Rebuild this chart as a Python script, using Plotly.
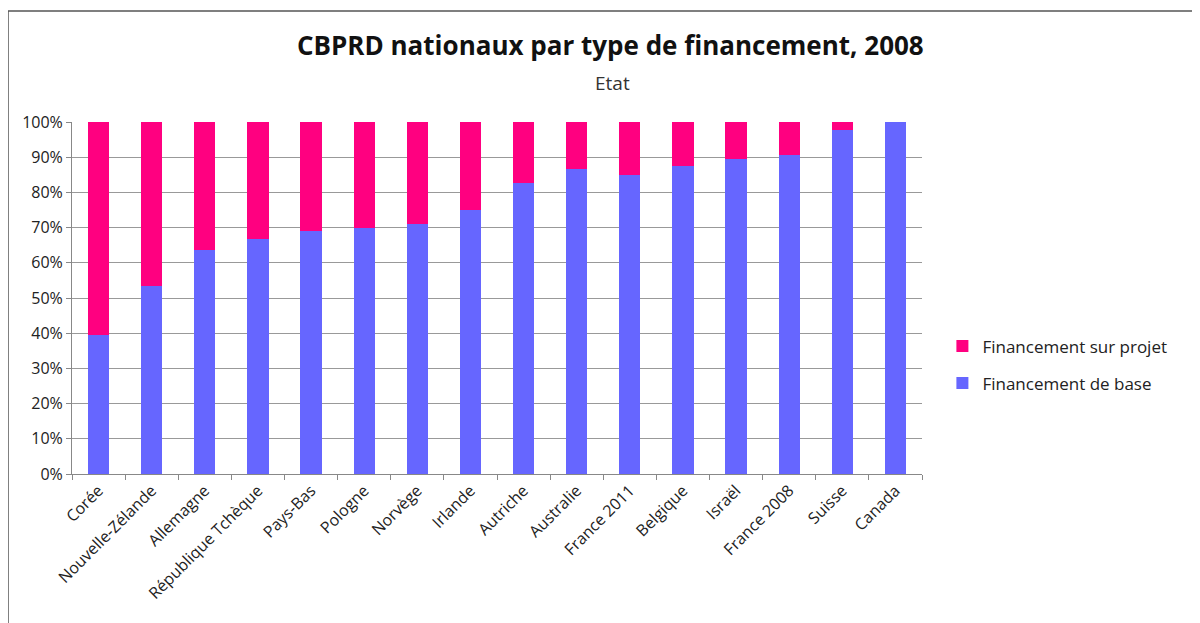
import plotly.graph_objs as go

pays = ["Corée", "Nouvelle-Zélande", "Allemagne", "République Tchèque", "Pays-Bas",
        "Pologne", "Norvège", "Irlande", "Autriche", "Australie", "France 2011",
        "Belgique", "Israël", "France 2008", "Suisse", "Canada"]
base = [39.5, 53.5, 63.6, 66.7, 69.0, 70.0, 71.0, 75.0, 82.6, 86.6, 84.9,
        87.6, 89.5, 90.6, 97.7, 100.0]
projet = [100 - b for b in base]

y_ticks = list(range(0, 101, 10))
y_labels = [f"{v}%" for v in y_ticks]

fig = go.Figure()
fig.add_trace(go.Bar(x=pays, y=base, name="Financement de base", legendgroup="b",
                     legendrank=2,
                     marker=dict(color="#6666FF", line=dict(width=0))))
fig.add_trace(go.Bar(x=pays, y=projet, name="Financement sur projet", legendgroup="p",
                     legendrank=1,
                     marker=dict(color="#FF0080", line=dict(width=0))))

# the page body adds an 8px offset, so the figure is sized 1192x615
fig.update_layout(
    barmode="stack",
    bargap=0.6,
    width=1192, height=615,
    margin=dict(l=64, r=278, t=114, b=149),
    paper_bgcolor="white", plot_bgcolor="white",
    font=dict(family="Open Sans, Lato, sans-serif", color="#222", size=14),
    showlegend=True,
    legend=dict(x=1.024, y=0.31, xanchor="left", yanchor="middle",
                traceorder="grouped", font=dict(size=17, color="#222"),
                tracegroupgap=12),
    xaxis=dict(tickangle=-45, ticks="outside", tickson="boundaries", ticklen=5,
               tickcolor="#888", showline=True, linecolor="#888", linewidth=1,
               showgrid=False, tickfont=dict(size=16), automargin=False),
    yaxis=dict(range=[0, 100], tickvals=y_ticks, ticktext=y_labels,
               showgrid=True, gridcolor="#999", gridwidth=1,
               showline=True, linecolor="#888", ticks="outside", ticklen=5,
               tickcolor="#888", tickfont=dict(size=16), zeroline=False,
               automargin=False),
    annotations=[
        dict(text="<b>CBPRD nationaux par type de financement, 2008</b>",
             xref="paper", yref="paper", x=0.633, y=1.219, showarrow=False,
             xanchor="center", yanchor="middle",
             font=dict(size=26, color="#111")),
        dict(text="Etat", xref="paper", yref="paper", x=0.636, y=1.111,
             showarrow=False, xanchor="center", yanchor="middle",
             font=dict(size=19, color="#333")),
    ],
    shapes=[dict(type="rect", xref="paper", yref="paper",
                 x0=-0.0753, x1=1.5, y0=-0.5, y1=1.315,
                 line=dict(color="#555", width=1.5))],
)

fig.write_html("out.html")
